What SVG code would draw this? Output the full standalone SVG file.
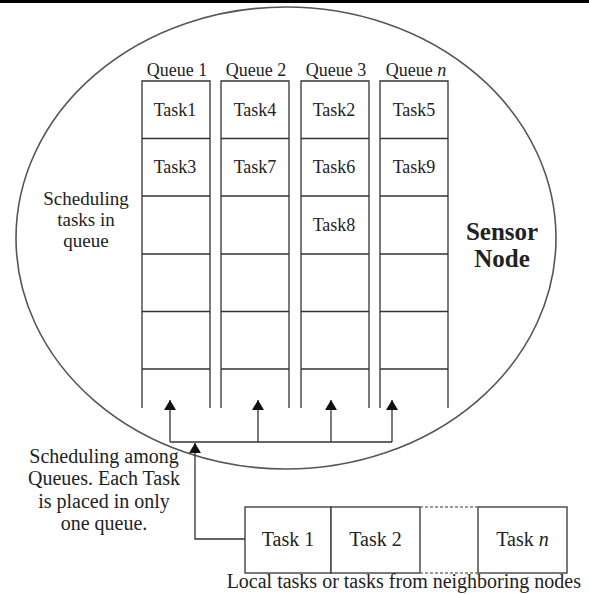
<svg xmlns="http://www.w3.org/2000/svg" width="589" height="594" viewBox="0 0 589 594">
<defs>
<style>
.t{font-family:"Liberation Serif","Times New Roman",serif;fill:#222;text-anchor:middle}
.q{font-size:18px}
.b{font-size:20px}
.s{font-size:19px}
.ln{stroke:#333;stroke-width:1.3;fill:none}
.cell{stroke:#333;stroke-width:1.3;fill:#fff}
</style>
<marker id="ah" viewBox="0 0 10 12" refX="10" refY="6" markerWidth="10" markerHeight="12" markerUnits="userSpaceOnUse" orient="auto">
<path d="M0,0 L10,6 L0,12 Z" fill="#111"/>
</marker>
</defs>
<rect x="0" y="0" width="589" height="3" fill="#000"/>
<g id="sensor-node">
<ellipse cx="286" cy="238" rx="270" ry="231" fill="#fff" stroke="#555" stroke-width="1.6"/>
<text class="t" x="502" y="240" font-size="25" font-weight="bold">Sensor</text>
<text class="t" x="502" y="267" font-size="25" font-weight="bold">Node</text>
<text class="t s" x="86" y="205">Scheduling</text>
<text class="t s" x="86" y="226">tasks in</text>
<text class="t s" x="86" y="247">queue</text>
</g>
<g id="queue1">
<text class="t q" x="177" y="76">Queue 1</text>
<path class="ln" d="M142,408 V81 H210 V408 M142,138.5 H210 M142,196 H210 M142,254 H210 M142,311.5 H210 M142,369 H210"/>
<text class="t q" x="175" y="115.5">Task1</text>
<text class="t q" x="175" y="173">Task3</text>
</g>
<g id="queue2">
<text class="t q" x="256" y="76">Queue 2</text>
<path class="ln" d="M221,408 V81 H289 V408 M221,138.5 H289 M221,196 H289 M221,254 H289 M221,311.5 H289 M221,369 H289"/>
<text class="t q" x="255" y="115.5">Task4</text>
<text class="t q" x="255" y="173">Task7</text>
</g>
<g id="queue3">
<text class="t q" x="336" y="76">Queue 3</text>
<path class="ln" d="M301,408 V81 H369 V408 M301,138.5 H369 M301,196 H369 M301,254 H369 M301,311.5 H369 M301,369 H369"/>
<text class="t q" x="334" y="115.5">Task2</text>
<text class="t q" x="334" y="173">Task6</text>
<text class="t q" x="334" y="230.5">Task8</text>
</g>
<g id="queuen">
<text class="t q" x="416" y="76">Queue <tspan font-style="italic">n</tspan></text>
<path class="ln" d="M380,408 V81 H448 V408 M380,138.5 H448 M380,196 H448 M380,254 H448 M380,311.5 H448 M380,369 H448"/>
<text class="t q" x="414" y="115.5">Task5</text>
<text class="t q" x="414" y="173">Task9</text>
</g>
<g id="scheduling-label">
<text class="t b" x="104" y="463">Scheduling among</text>
<text class="t b" x="104" y="485">Queues. Each Task</text>
<text class="t b" x="104" y="508">is placed in only</text>
<text class="t b" x="104" y="530">one queue.</text>
</g>
<g id="incoming-tasks">
<rect class="cell" x="245" y="507" width="86" height="66"/>
<rect class="cell" x="331" y="507" width="89" height="66"/>
<rect class="cell" x="478" y="507" width="89" height="66"/>
<path d="M420,507 H478 M420,573 H478" stroke="#777" stroke-width="1.3" stroke-dasharray="3,2" fill="none"/>
<text class="t b" x="288" y="546">Task 1</text>
<text class="t b" x="375.5" y="546">Task 2</text>
<text class="t b" x="522.5" y="546">Task <tspan font-style="italic">n</tspan></text>
<text class="t b" x="581" y="588" style="text-anchor:end">Local tasks or tasks from neighboring nodes</text>
</g>
<g id="connectors">
<path class="ln" d="M170,442 H392"/>
<path class="ln" d="M170,442 V400" marker-end="url(#ah)"/>
<path class="ln" d="M258,442 V400" marker-end="url(#ah)"/>
<path class="ln" d="M331,442 V400" marker-end="url(#ah)"/>
<path class="ln" d="M392,442 V400" marker-end="url(#ah)"/>
<path class="ln" d="M245,539 H195 V443" marker-end="url(#ah)"/>
</g>
</svg>
